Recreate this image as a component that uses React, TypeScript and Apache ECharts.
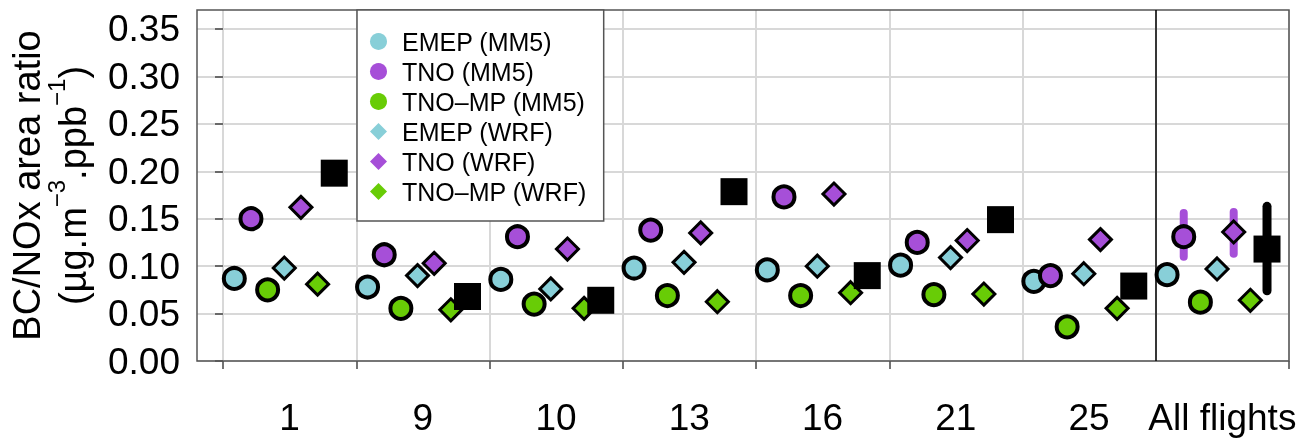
import React, { useEffect, useRef } from 'react';
import * as echarts from 'echarts';

const flights = ['1', '9', '10', '13', '16', '21', '25', 'All flights'];
const seriesNames = ['EMEP (MM5)', 'TNO (MM5)', 'TNO–MP (MM5)', 'EMEP (WRF)', 'TNO (WRF)', 'TNO–MP (WRF)'];
const emepMM5 = [0.087, 0.078, 0.086, 0.098, 0.096, 0.101, 0.084, 0.091];
const tnoMM5 = [0.150, 0.112, 0.131, 0.138, 0.173, 0.125, 0.090, 0.131];
const tnompMM5 = [0.075, 0.0555, 0.060, 0.069, 0.069, 0.070, 0.036, 0.062];
const emepWRF = [0.098, 0.090, 0.076, 0.104, 0.100, 0.109, 0.092, 0.097];
const tnoWRF = [0.162, 0.103, 0.118, 0.135, 0.176, 0.127, 0.128, 0.136];
const tnompWRF = [0.081, 0.054, 0.0555, 0.0625, 0.072, 0.0706, 0.0555, 0.064];
const observed = [0.198, 0.068, 0.064, 0.1785, 0.090, 0.149, 0.079, 0.118];
// ranges shown for "All flights"
const tnoMM5Range = [0.110, 0.156];
const tnoWRFRange = [0.113, 0.157];
const observedRange = [0.074, 0.163];
const yTicks = [0, 0.05, 0.1, 0.15, 0.2, 0.25, 0.3, 0.35];

const slotOffsets = [0.085, 0.21, 0.335, 0.46, 0.585, 0.71, 0.835];
const colors = { emep: '#88CFD8', tno: '#A64FD8', tnomp: '#68CC06' };
const FONT = '"Liberation Sans", Arial, Helvetica, sans-serif';

export default function App() {
  const ref = useRef<HTMLDivElement>(null);
  useEffect(() => {
    document.body.style.margin = '0';
    const chart = echarts.init(ref.current!, undefined, { renderer: 'svg' });
    const toPts = (vals: number[], slot: number) => vals.map((v, i) => [i + slotOffsets[slot], v]);
    const allIdx = flights.length - 1;
    const errData = [
      [allIdx + slotOffsets[1], tnoMM5Range[0], tnoMM5Range[1], 0],
      [allIdx + slotOffsets[4], tnoWRFRange[0], tnoWRFRange[1], 0],
      [allIdx + slotOffsets[6], observedRange[0], observedRange[1], 1],
    ];
    const circle = (name: string, vals: number[], slot: number, color: string) => ({
      type: 'scatter', name, xAxisIndex: 0, yAxisIndex: 0, data: toPts(vals, slot),
      symbol: 'circle', symbolSize: 21,
      itemStyle: { color, borderColor: '#000', borderWidth: 4, opacity: 1 },
    });
    const diamond = (name: string, vals: number[], slot: number, color: string) => ({
      type: 'scatter', name, xAxisIndex: 0, yAxisIndex: 0, data: toPts(vals, slot),
      symbol: 'diamond', symbolSize: 22,
      itemStyle: { color, borderColor: '#000', borderWidth: 3, opacity: 1 },
    });
    const option: any = {
      animation: false,
      grid: [
        { left: 197, right: 13, top: 10, bottom: 78, show: true, borderColor: '#555', borderWidth: 1.5, backgroundColor: 'transparent', z: 3 },
        { left: 223, right: 13, top: 10, bottom: 78, show: false },
      ],
      xAxis: [
        { type: 'value', gridIndex: 0, min: -0.195, max: 8, show: false },
        {
          type: 'category', gridIndex: 1, data: flights, boundaryGap: true,
          axisLine: { show: false },
          axisTick: { show: true, length: 8, interval: (i: number) => i <= 5, lineStyle: { color: '#444', width: 1.5 } },
          axisLabel: { interval: 0, fontSize: 37, color: '#000', margin: 38, fontFamily: FONT },
          splitLine: { show: true, interval: 0, lineStyle: { color: '#d8d8d8', width: 2 } },
        },
      ],
      yAxis: [
        {
          type: 'value', gridIndex: 0, min: 0, max: 0.37, interval: 0.05,
          axisLine: { show: false },
          axisTick: { show: true, length: 8, customValues: yTicks, lineStyle: { color: '#444', width: 1.5 } },
          axisLabel: { customValues: yTicks, formatter: (v: number) => v.toFixed(2), fontSize: 37, color: '#000', margin: 17, fontFamily: FONT },
          splitLine: { show: true, lineStyle: { color: '#d8d8d8', width: 2 } },
          name: '{a|BC/NOx area ratio}\n{b|(µg.m}{s|−3}{b|.ppb}{s|−1}{b|)}',
          nameLocation: 'middle', nameGap: 95, nameRotate: 90,
          nameTextStyle: {
            fontFamily: FONT, color: '#000',
            rich: {
              a: { fontSize: 38, lineHeight: 34, fontFamily: FONT, color: '#000' },
              b: { fontSize: 38, lineHeight: 58, fontFamily: FONT, color: '#000' },
              s: { fontSize: 24, lineHeight: 20, verticalAlign: 'top', fontFamily: FONT, color: '#000' },
            },
          },
        },
        { type: 'value', gridIndex: 1, min: 0, max: 0.37, show: false },
      ],
      legend: {
        data: seriesNames.map((n, i) => ({ name: n, icon: i < 3 ? 'circle' : 'diamond' })),
        orient: 'vertical', left: 357, top: 10,
        itemWidth: 17, itemHeight: 17, itemGap: 5,
        padding: [19, 17, 17, 13],
        backgroundColor: '#fff', borderColor: '#555', borderWidth: 1.5, borderRadius: 0,
        textStyle: { fontSize: 25, lineHeight: 25, color: '#000', fontFamily: FONT, padding: [0, 0, 0, 10] },
        itemStyle: { borderWidth: 0 },
        selectedMode: false,
      },
      series: [
        {
          type: 'custom', name: 'ranges', xAxisIndex: 0, yAxisIndex: 0, data: errData,
          encode: { x: 0, y: [1, 2] }, silent: true,
          renderItem: (params: any, api: any) => {
            const x = api.value(0);
            const lo = api.coord([x, api.value(1)]);
            const hi = api.coord([x, api.value(2)]);
            const isObs = api.value(3) === 1;
            return {
              type: 'line',
              shape: { x1: lo[0], y1: lo[1], x2: hi[0], y2: hi[1] },
              style: { stroke: isObs ? '#000' : colors.tno, lineWidth: isObs ? 9 : 8, lineCap: 'round' },
            };
          },
        },
        circle(seriesNames[0], emepMM5, 0, colors.emep),
        circle(seriesNames[1], tnoMM5, 1, colors.tno),
        circle(seriesNames[2], tnompMM5, 2, colors.tnomp),
        diamond(seriesNames[3], emepWRF, 3, colors.emep),
        diamond(seriesNames[4], tnoWRF, 4, colors.tno),
        diamond(seriesNames[5], tnompWRF, 5, colors.tnomp),
        {
          type: 'scatter', name: 'Observed', xAxisIndex: 0, yAxisIndex: 0, data: toPts(observed, 6),
          symbol: 'rect', symbolSize: 27, itemStyle: { color: '#000', opacity: 1 },
          markLine: {
            silent: true, symbol: ['none', 'none'], label: { show: false },
            lineStyle: { color: '#000', width: 1.5, type: 'solid' },
            data: [{ xAxis: allIdx }],
          },
        },
      ],
    };
    chart.setOption(option);
    return () => chart.dispose();
  }, []);
  return <div ref={ref} style={{ width: 1302, height: 439, position: 'fixed', left: 0, top: 0 }} />;
}
